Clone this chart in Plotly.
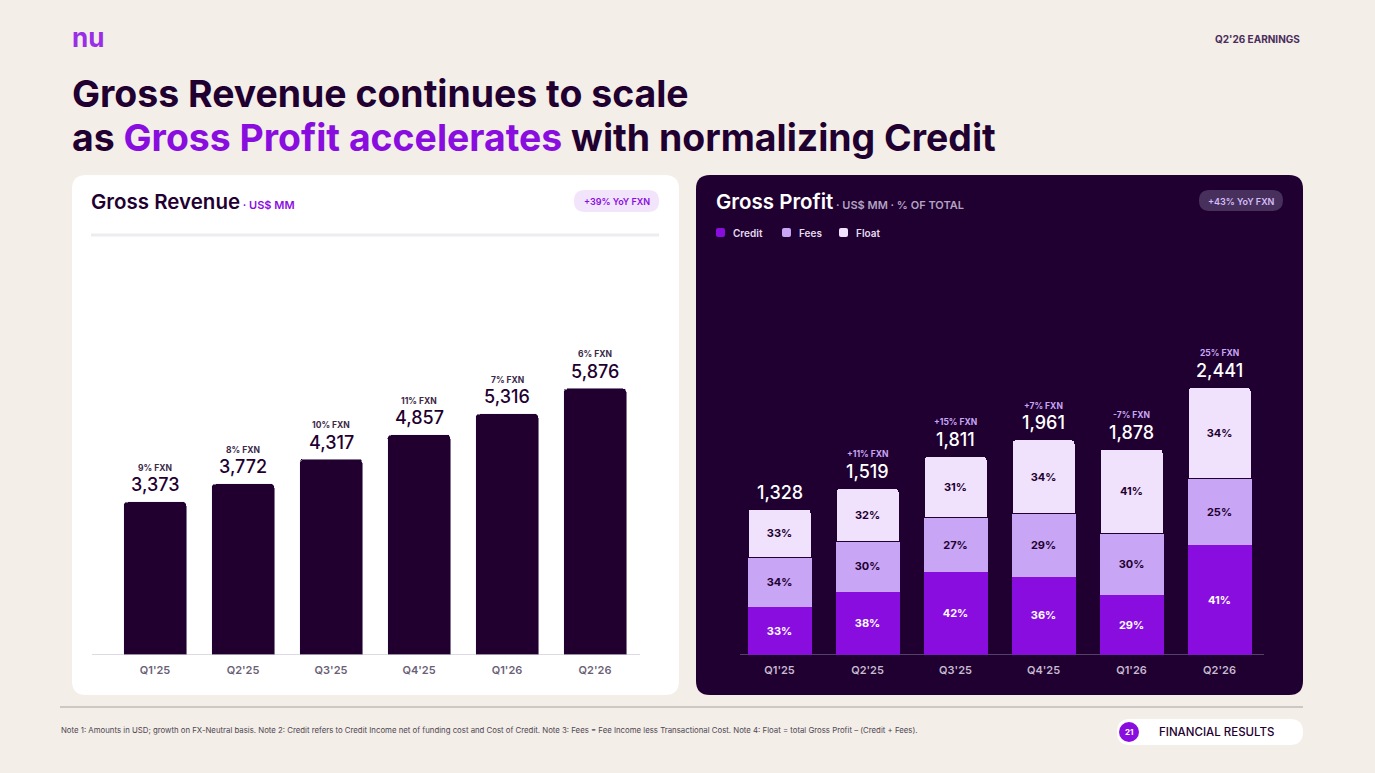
import plotly.graph_objects as go

W, H = 1375, 773

# data
quarters = ["Q1'25", "Q2'25", "Q3'25", "Q4'25", "Q1'26", "Q2'26"]
revenue = [3373, 3772, 4317, 4857, 5316, 5876]
revenue_growth = ["9% FXN", "8% FXN", "10% FXN", "11% FXN", "7% FXN", "6% FXN"]
profit = [1328, 1519, 1811, 1961, 1878, 2441]
profit_growth = ["", "+11% FXN", "+15% FXN", "+7% FXN", "-7% FXN", "25% FXN"]
credit_pct = [33, 38, 42, 36, 29, 41]
fees_pct = [34, 30, 27, 29, 30, 25]
float_pct = [33, 32, 31, 34, 41, 34]

# colours
BG = "#f3eee7"
DARK = "#1f0030"
PURPLE = "#8a0ddf"
FEES = "#c8a5f5"
FLOAT = "#f0e2fc"
FONT = "Inter"


def px(x):
    return x / W


def py(y):
    return 1 - y / H


def rrect(x0, y0, x1, y1, r):
    pts = [
        ("M", x0 + r, y0), ("L", x1 - r, y0), ("Q", x1, y0, x1, y0 + r),
        ("L", x1, y1 - r), ("Q", x1, y1, x1 - r, y1), ("L", x0 + r, y1),
        ("Q", x0, y1, x0, y1 - r), ("L", x0, y0 + r), ("Q", x0, y0, x0 + r, y0),
    ]
    out = ""
    for p in pts:
        cmd, vals = p[0], p[1:]
        coords = []
        for i in range(0, len(vals), 2):
            coords.append(f"{px(vals[i]):.5f},{py(vals[i + 1]):.5f}")
        out += cmd + " ".join(coords)
    return out + "Z"


def box(x0, y0, x1, y1, r, color, layer="below"):
    return dict(type="path", path=rrect(x0, y0, x1, y1, r), xref="paper",
                yref="paper", fillcolor=color, opacity=1,
                line=dict(width=0, color=color), layer=layer)


# stack heights scaled so the three parts add up to the total
def parts(pcts):
    out = []
    for q in range(len(quarters)):
        s = credit_pct[q] + fees_pct[q] + float_pct[q]
        out.append(profit[q] * pcts[q] / s)
    return out


fig = go.Figure()

fig.add_bar(x=quarters, y=revenue, marker_color="#21002f", xaxis="x", yaxis="y",
            hoverinfo="skip")

for name, pcts, col, tcol in [("Credit", credit_pct, PURPLE, "white"),
                              ("Fees", fees_pct, FEES, DARK),
                              ("Float", float_pct, FLOAT, DARK)]:
    fig.add_bar(x=quarters, y=parts(pcts), name=name, marker_color=col,
                marker_line=dict(color=DARK if name == "Float" else col, width=1),
                text=[f"{p}%" for p in pcts], textposition="inside",
                insidetextanchor="middle", textangle=0,
                textfont=dict(family=FONT, size=11, color=tcol, weight=700),
                xaxis="x2", yaxis="y2", hoverinfo="skip")

shapes = [
    box(72, 175, 679, 695, 14, "white"),
    box(696, 175, 1303, 695, 14, DARK),
    # divider under left title
    dict(type="line", xref="paper", yref="paper", x0=px(91), x1=px(659),
         y0=py(235), y1=py(235), line=dict(color="#eeecef", width=3)),
    # baselines
    dict(type="line", xref="paper", yref="paper", x0=px(92), x1=px(640),
         y0=py(654.5), y1=py(654.5), line=dict(color="#dedae2", width=1),
         layer="below"),
    dict(type="line", xref="paper", yref="paper", x0=px(740), x1=px(1264),
         y0=py(654.5), y1=py(654.5), line=dict(color="#54406a", width=1),
         layer="below"),
    # badges
    box(574, 190, 659, 212, 11, "#f1e4fb", "above"),
    box(1199, 190, 1283, 211, 10.5, "#47305c", "above"),
    # footer
    dict(type="line", xref="paper", yref="paper", x0=px(60), x1=px(1303),
         y0=py(707), y1=py(707), line=dict(color="#cdc8c4", width=2)),
    box(1117, 719, 1303, 745, 13, "white", "above"),
    dict(type="circle", xref="paper", yref="paper", x0=px(1119), x1=px(1139),
         y0=py(742), y1=py(722), fillcolor=PURPLE, line=dict(width=0)),
]

# legend squares
for lx, col in [(716, PURPLE), (782, FEES), (839, FLOAT)]:
    shapes.append(box(lx, 228, lx + 9, 237, 2, col, "above"))

ann = []


def text(x, y, s, size, color, weight=400, xanchor="left", yanchor="middle"):
    ann.append(dict(x=px(x), y=py(y), xref="paper", yref="paper", text=s,
                    showarrow=False, xanchor=xanchor, yanchor=yanchor,
                    font=dict(family=FONT, size=size, color=color, weight=weight)))


text(70, 38, "nu", 26, "#9a2ee6", 700)
text(1302, 39, "Q2'26 EARNINGS", 10, "#4a2d5c", 700, xanchor="right")
text(70, 93, "Gross Revenue continues to scale", 37.4, DARK, 700)
text(70, 138, f"as <span style='color:{PURPLE}'>Gross Profit accelerates</span> "
     "with normalizing Credit", 37.4, DARK, 700)

text(89, 201, "Gross Revenue<span style='font-size:11px;color:#8a0ddf;font-weight:600'>"
     " · US$ MM</span>", 20.5, DARK, 600)
text(616.5, 201, "+39% YoY FXN", 9, PURPLE, 600, xanchor="center")
text(714, 201, "Gross Profit<span style='font-size:11px;color:#b3a3c2;font-weight:600'>"
     " · US$ MM · % OF TOTAL</span>", 20.5, "white", 600)
text(1241, 201, "+43% YoY FXN", 9, "#d6bdf7", 600, xanchor="center")

for lx, name in [(731, "Credit"), (797, "Fees"), (854, "Float")]:
    text(lx, 232.5, name, 10, "#e6dbee", 600)

text(59, 730, "Note 1: Amounts in USD; growth on FX-Neutral basis. Note 2: Credit refers "
     "to Credit Income net of funding cost and Cost of Credit. Note 3: Fees = Fee Income "
     "less Transactional Cost. Note 4: Float = total Gross Profit – (Credit + Fees).",
     7.8, "#4f4654", 400)
text(1129, 732, "21", 8, "white", 700, xanchor="center")
text(1157, 732, "FINANCIAL RESULTS", 11.5, DARK, 500)

# bar top labels
for q, v, g in zip(quarters, revenue, revenue_growth):
    ann.append(dict(x=q, y=v, xref="x", yref="y", text=f"{v:,}", showarrow=False,
                    yanchor="middle", yshift=17,
                    font=dict(family=FONT, size=18, color=DARK, weight=500)))
    ann.append(dict(x=q, y=v, xref="x", yref="y", text=g, showarrow=False,
                    yanchor="middle", yshift=34,
                    font=dict(family=FONT, size=8.5, color="#3a2848", weight=700)))

for q, v, g in zip(quarters, profit, profit_growth):
    ann.append(dict(x=q, y=v, xref="x2", yref="y2", text=f"{v:,}", showarrow=False,
                    yanchor="middle", yshift=17,
                    font=dict(family=FONT, size=18, color="white", weight=500)))
    if g:
        ann.append(dict(x=q, y=v, xref="x2", yref="y2", text=g, showarrow=False,
                        yanchor="middle", yshift=34,
                        font=dict(family=FONT, size=8.5, color="#c9a6f5", weight=700)))

ydom = [py(654.5), py(337.5)]
fig.update_layout(
    width=W, height=H, margin=dict(l=0, r=0, t=0, b=0),
    paper_bgcolor=BG, plot_bgcolor="rgba(0,0,0,0)",
    barmode="stack", bargap=0.284, barcornerradius=4,
    showlegend=False, shapes=shapes, annotations=ann,
    xaxis=dict(domain=[px(111), px(639)], showgrid=False, zeroline=False,
               tickfont=dict(family=FONT, size=11, color="#6b5f76", weight=600),
               ticks="", ticklabelstandoff=7, fixedrange=True),
    yaxis=dict(domain=ydom, range=[0, 7000], visible=False, fixedrange=True),
    xaxis2=dict(domain=[px(735.5), px(1263.5)], showgrid=False, zeroline=False,
                anchor="y2",
                tickfont=dict(family=FONT, size=11, color="#c6bbd0", weight=600),
                ticks="", ticklabelstandoff=7, fixedrange=True),
    yaxis2=dict(domain=ydom, range=[0, 2897], visible=False, anchor="x2",
                fixedrange=True),
)

fig.write_html("out.html", config={"displayModeBar": False},
               post_script="document.body.style.margin='0';document.body.style.padding='0';")
